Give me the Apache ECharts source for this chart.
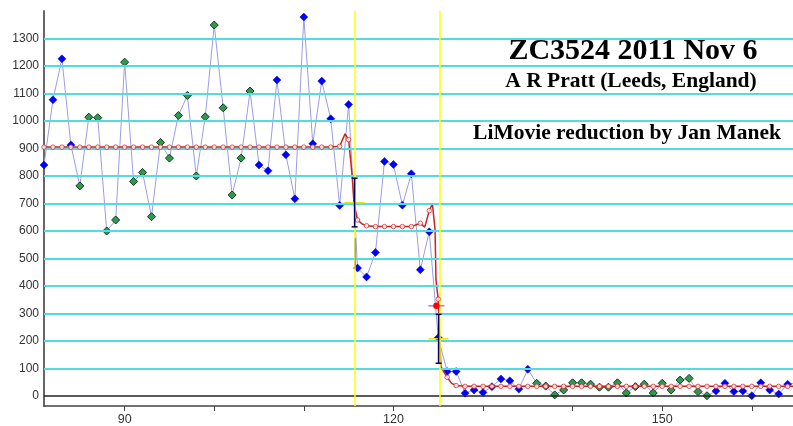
<!DOCTYPE html>
<html><head><meta charset="utf-8">
<script src="https://cdn.jsdelivr.net/npm/echarts@6/dist/echarts.min.js"></script>
<style>html,body{margin:0;padding:0;background:#fff}#c{width:793px;height:426px}</style>
</head><body><div id="c"></div>
<script>
// frame numbers
const frames = [81,82,83,84,85,86,87,88,89,90,91,92,93,94,95,96,97,98,99,100,
101,102,103,104,105,106,107,108,109,110,111,112,113,114,115,116,117,118,119,120,
121,122,123,124,125,126,127,128,129,130,131,132,133,134,135,136,137,138,139,140,
141,142,143,144,145,146,147,148,149,150,151,152,153,154,155,156,157,158,159,160,
161,162,163,164,165];
// observed brightness
const flux = [840,1077,1226,913,764,1014,1012,600,640,1214,780,813,652,922,865,1020,1093,800,1015,1349,
1048,731,865,1109,840,819,1149,877,717,1378,917,1145,1008,693,1060,465,433,522,853,842,
694,808,459,597,212,89,89,10,22,13,34,62,55,25,97,46,36,4,22,48,
48,43,32,32,48,11,34,43,11,46,22,58,64,16,1,18,46,16,18,1,
48,22,7,43,48];
// point colour class: b = blue, g = green
const pointClass = ['b','b','b','b','g','g','g','g','g','g','g','g','g','g','g','g','g','g','g','g',
'g','g','g','g','b','b','b','b','b','b','b','b','b','b','b','b','b','b','b','b',
'b','b','b','b','b','b','b','b','b','b','b','b','b','b','b','g','g','g','g','g',
'g','g','g','g','g','g','g','g','g','g','g','g','g','g','g','b','b','b','b','b',
'b','b','b','b','b'];
// model light curve at integer frames
const modelFlux = [905,905,905,905,905,905,905,905,905,905,905,905,905,905,905,905,905,905,905,905,
905,905,905,905,905,905,905,905,905,905,905,905,905,908,932,640,619,616,616,616,
616,616,628,674,352,68,38,35,35,35,35,35,35,35,35,35,35,35,35,35,
35,35,35,35,35,35,35,35,35,35,35,35,35,35,35,35,35,35,35,35,
35,35,35,35,35];
// extra (sub-frame) points of the model curve
const curveExtraFrames = [114.6,115.4,115.6,116.5,123.5,124.35,124.65,124.75,125.15,125.3,126.5];
const curveExtraFlux   = [953,798,701,626,614,699,604,422,216,107,46];
// error bars at the events
const errFrames = [115.67,125.04];
const errLow = [615,119];
const errHigh = [792,297];
const errMid = [703,208];
// event lines
const eventFrames = [115.67,125.2];
// fitted point
const fitFrame = 124.8;
const fitFlux = 328;
// grey marker
const greyFrame = 115.75;
const greyRange = [574,465];
// ticks
const yTicks = [0,100,200,300,400,500,600,700,800,900,1000,1100,1200,1300];
const xTicks = [90,100,110,120,130,140,150,160];
const xLabels = [90,120,150];

const chart = echarts.init(document.getElementById('c'), null, {renderer:'canvas'});

const obsData = frames.map((f,i)=>({
  value:[f,flux[i]],
  itemStyle: pointClass[i]==='b'
    ? {color:'#0000ff', borderColor:'#0000d0', borderWidth:0.5}
    : {color:'#2f9a4e', borderColor:'#123a1c', borderWidth:1}
}));
const curve = frames.map((f,i)=>[f,modelFlux[i]])
  .concat(curveExtraFrames.map((f,i)=>[f,curveExtraFlux[i]]))
  .sort((a,b)=>a[0]-b[0]);

const gridLines = yTicks.filter(v=>v!==0).map(v=>({yAxis:v, lineStyle:{color:'#52dce2', width:2, type:'solid'}}));
gridLines.push({yAxis:0, lineStyle:{color:'#222', width:1.5, type:'solid'}});
eventFrames.forEach(f=>gridLines.push({xAxis:f, lineStyle:{color:'#ffff00', width:1.5, type:'solid'}}));

const option = {
  animation:false,
  backgroundColor:'#fff',
  grid:{left:44, right:0, top:11, bottom:20},
  xAxis:{type:'value', min:81, max:164.6,
    axisLine:{show:true, onZero:false, lineStyle:{color:'#444', width:1.5}},
    axisTick:{show:true, customValues:xTicks, length:5, lineStyle:{color:'#444'}},
    axisLabel:{customValues:xLabels, formatter:v=>String(v), color:'#333', fontSize:12.5, fontFamily:'Liberation Sans', margin:7},
    splitLine:{show:false}},
  yAxis:{type:'value', min:-36.4, max:1400,
    axisLine:{show:true, onZero:false, lineStyle:{color:'#666', width:2}},
    axisTick:{show:false},
    axisLabel:{customValues:yTicks, formatter:v=>String(v), color:'#333', fontSize:12, fontFamily:'Liberation Sans', margin:5},
    splitLine:{show:false}},
  series:[
    {type:'line', data:[[81,0]], symbol:'none', lineStyle:{opacity:0}, silent:true, z:1,
      markLine:{silent:true, symbol:['none','none'], label:{show:false}, data:gridLines}},
    {type:'line', data:obsData, symbol:'diamond', symbolSize:8, showAllSymbol:true,
      lineStyle:{color:'#9c9ce2', width:1}, z:3},
    {type:'line', data:curve, symbol:'none', lineStyle:{color:'#cc2222', width:1.5}, z:4},
    {type:'scatter', data:frames.map((f,i)=>[f,modelFlux[i]]), symbol:'circle', symbolSize:4.5,
      itemStyle:{color:'#fff', borderColor:'#d03030', borderWidth:1}, z:5},
    {type:'custom', z:6, data:errFrames.map((f,i)=>[f,errLow[i],errHigh[i],errMid[i]]),
      renderItem:function(params, api){
        const lo = api.coord([api.value(0), api.value(1)]);
        const hi = api.coord([api.value(0), api.value(2)]);
        const mid = api.coord([api.value(0), api.value(3)]);
        const left = api.coord([api.value(0)-1.1, api.value(3)]);
        const right = api.coord([api.value(0)+1.1, api.value(3)]);
        const st = {stroke:'#000060', lineWidth:1.5};
        return {type:'group', children:[
          {type:'line', shape:{x1:left[0], y1:mid[1], x2:right[0], y2:mid[1]}, style:{stroke:'#f0e000', lineWidth:1.5}},
          {type:'line', shape:{x1:lo[0], y1:lo[1], x2:hi[0], y2:hi[1]}, style:st},
          {type:'line', shape:{x1:lo[0]-3, y1:lo[1], x2:lo[0]+3, y2:lo[1]}, style:st},
          {type:'line', shape:{x1:hi[0]-3, y1:hi[1], x2:hi[0]+3, y2:hi[1]}, style:st}
        ]};
      }},
    {type:'custom', z:6, data:[[greyFrame, greyRange[0], greyRange[1]]],
      renderItem:function(params, api){
        const a = api.coord([api.value(0), api.value(1)]);
        const b = api.coord([api.value(0), api.value(2)]);
        return {type:'line', shape:{x1:a[0], y1:a[1], x2:b[0], y2:b[1]}, style:{stroke:'#a0a080', lineWidth:1.5}};
      }},
    {type:'custom', z:7, data:[[fitFrame, fitFlux]],
      renderItem:function(params, api){
        const p = api.coord([api.value(0), api.value(1)]);
        const l = api.coord([api.value(0)-0.9, api.value(1)]);
        const r = api.coord([api.value(0)+0.9, api.value(1)]);
        return {type:'group', children:[
          {type:'line', shape:{x1:l[0], y1:p[1], x2:r[0], y2:p[1]}, style:{stroke:'#e060e0', lineWidth:1.5}},
          {type:'circle', shape:{cx:p[0], cy:p[1], r:3.2}, style:{fill:'#ff0000'}}
        ]};
      }}
  ],
  graphic:[
    {type:'text', x:633, y:51, style:{text:'ZC3524 2011 Nov 6', font:'bold 30px "Liberation Serif"', fill:'#000', align:'center', verticalAlign:'middle'}},
    {type:'text', x:631, y:81.5, style:{text:'A R Pratt (Leeds, England)', font:'bold 21.5px "Liberation Serif"', fill:'#000', align:'center', verticalAlign:'middle'}},
    {type:'text', x:627, y:133.5, style:{text:'LiMovie reduction by Jan Manek', font:'bold 21.5px "Liberation Serif"', fill:'#000', align:'center', verticalAlign:'middle'}}
  ]
};
chart.setOption(option);
</script>
</body></html>
